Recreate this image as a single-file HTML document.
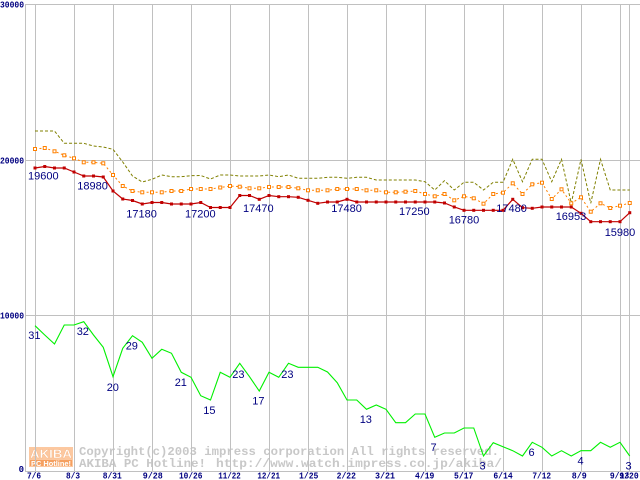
<!DOCTYPE html>
<html>
<head>
<meta charset="utf-8">
<style>
html,body{margin:0;padding:0;background:#fff;}
svg{display:block;}
.lbl{font-family:"Liberation Sans",sans-serif;font-size:11px;fill:#000080;}
.ax{font-family:"Liberation Mono",monospace;font-size:9px;font-weight:bold;fill:#000080;}
.wm{font-family:"Liberation Mono",monospace;font-size:12px;font-weight:bold;fill:#c8c8c8;}
</style>
</head>
<body>
<svg width="640" height="480" viewBox="0 0 640 480" xmlns="http://www.w3.org/2000/svg">
<defs>
<marker id="mr" markerUnits="userSpaceOnUse" markerWidth="6" markerHeight="6" refX="3" refY="3" overflow="visible">
<rect x="1.5" y="1.5" width="3" height="3" fill="#c00000"/>
</marker>
<marker id="mo" markerUnits="userSpaceOnUse" markerWidth="6" markerHeight="6" refX="3" refY="3" overflow="visible">
<rect x="1.5" y="1.5" width="3" height="3" fill="#fff" stroke="#ff8000" stroke-width="1" stroke-dasharray="none"/>
</marker>
</defs>

<!-- logo -->
<rect x="29" y="447" width="44" height="12" fill="#fcc8a0"/>
<text x="30" y="458" font-family="Liberation Sans,sans-serif" font-weight="bold" font-size="12" fill="#ffffff" stroke="#f8b888" stroke-width="0.4" textLength="42" lengthAdjust="spacingAndGlyphs">AKIBA</text>
<rect x="29" y="459" width="44" height="8" fill="#fcc8a0"/>
<rect x="30" y="460" width="42" height="6" fill="#f5a060"/>
<text x="31" y="466" font-family="Liberation Sans,sans-serif" font-weight="bold" font-size="7" fill="#ffffff" textLength="40" lengthAdjust="spacingAndGlyphs">PC Hotline!</text>

<!-- watermark text -->
<text class="wm" x="79" y="455" textLength="420" lengthAdjust="spacingAndGlyphs">Copyright(c)2003 impress corporation All rights reserved.</text>
<text class="wm" x="79" y="467" textLength="127" lengthAdjust="spacingAndGlyphs">AKIBA PC Hotline!</text>
<text class="wm" x="216" y="467" textLength="286" lengthAdjust="spacingAndGlyphs">http://www.watch.impress.co.jp/akiba/</text>

<!-- grid -->
<g fill="#c0c0c0" shape-rendering="crispEdges">
<rect x="25" y="4" width="615" height="1"/>
<rect x="25" y="160" width="615" height="1"/>
<rect x="25" y="315" width="615" height="1"/>
<rect x="25" y="471" width="615" height="1"/>
<rect x="25" y="4" width="1" height="468"/>
<rect x="35" y="4" width="1" height="468"/>
<rect x="74" y="4" width="1" height="468"/>
<rect x="113" y="4" width="1" height="468"/>
<rect x="152" y="4" width="1" height="468"/>
<rect x="191" y="4" width="1" height="468"/>
<rect x="230" y="4" width="1" height="468"/>
<rect x="269" y="4" width="1" height="468"/>
<rect x="308" y="4" width="1" height="468"/>
<rect x="347" y="4" width="1" height="468"/>
<rect x="386" y="4" width="1" height="468"/>
<rect x="425" y="4" width="1" height="468"/>
<rect x="464" y="4" width="1" height="468"/>
<rect x="503" y="4" width="1" height="468"/>
<rect x="542" y="4" width="1" height="468"/>
<rect x="581" y="4" width="1" height="468"/>
<rect x="620" y="4" width="1" height="468"/>
<rect x="629" y="4" width="1" height="468"/>
</g>

<!-- olive dashed -->
<polyline fill="none" stroke="#808000" stroke-width="1" stroke-dasharray="3 2" points="35,131 44.75,131 54.5,131 64.25,143.3 74,143.3 83.75,143.3 93.5,146 103.25,147 113,149.3 122.75,162 132.5,176 142.25,182 152,179.3 161.75,175 171.5,176.7 181.25,176.7 191,175.7 200.75,175.5 210.5,179 220.25,175 230,175 239.75,176 249.5,176 259.25,176 269,175 278.75,176.7 288.5,175 298.25,178.3 308,178.3 317.75,178.3 327.5,177.3 337.25,177.3 347,178.3 356.75,177.3 366.5,177.3 376.25,180 386,180 395.75,180 405.5,180 415.25,180 425,181.7 434.75,190 444.5,180.7 454.25,190 464,182.3 473.75,182.3 483.5,190 493.25,182.3 503,182.3 512.75,159.3 522.5,181.7 532.25,159.3 542,159.3 551.75,181.7 561.5,159.3 571.25,203.3 581,159.3 590.75,203.3 600.5,159.3 610.25,190 620,190 629.75,190"/>

<!-- orange dotted -->
<polyline fill="none" stroke="#ff8000" stroke-width="1" stroke-dasharray="2 2.5" marker-start="url(#mo)" marker-mid="url(#mo)" marker-end="url(#mo)" points="35,149 44.75,148 54.5,151.3 64.25,155.3 74,158.3 83.75,162.3 93.5,162.3 103.25,163.3 113,175 122.75,186 132.5,191 142.25,192.3 152,192.3 161.75,192.3 171.5,191 181.25,191 191,189 200.75,189 210.5,189 220.25,187.5 230,186 239.75,186.7 249.5,188.3 259.25,188.3 269,187 278.75,187 288.5,187 298.25,188.3 308,190.3 317.75,190.3 327.5,190.3 337.25,189 347,189 356.75,189 366.5,190.3 376.25,190.3 386,192.3 395.75,192.3 405.5,191.7 415.25,191 425,194 434.75,196.3 444.5,194 454.25,200.3 464,196.3 473.75,198.3 483.5,203.7 493.25,194 503,192.7 512.75,183.3 522.5,194 532.25,184.3 542,182.7 551.75,199 561.5,189.3 571.25,203.3 581,197.3 590.75,211.7 600.5,203.3 610.25,208 620,205.7 629.75,203"/>

<!-- red -->
<polyline fill="none" stroke="#c00000" stroke-width="1.2" marker-start="url(#mr)" marker-mid="url(#mr)" marker-end="url(#mr)" points="35,168 44.75,166.5 54.5,168 64.25,168 74,172 83.75,176 93.5,176 103.25,177 113,191 122.75,199 132.5,200.5 142.25,204 152,202.5 161.75,202.5 171.5,204 181.25,204 191,204 200.75,202.5 210.5,207.5 220.25,207.5 230,207.5 239.75,195.5 249.5,195.5 259.25,199.3 269,195.5 278.75,196.7 288.5,196.7 298.25,197.3 308,200.3 317.75,203.3 327.5,202 337.25,202 347,199.3 356.75,202 366.5,202 376.25,202 386,202 395.75,202 405.5,202 415.25,202 425,202 434.75,202 444.5,203 454.25,207 464,210.3 473.75,210.3 483.5,210.3 493.25,210.3 503,210.3 512.75,199.3 522.5,207.7 532.25,208.3 542,207 551.75,207 561.5,207 571.25,207 581,213.3 590.75,221.7 600.5,221.7 610.25,221.7 620,221.7 629.75,212.7"/>

<!-- green -->
<polyline fill="none" stroke="#00f000" stroke-width="1.1" points="35,325.7 44.75,335 54.5,344 64.25,325 74,325 83.75,321.7 93.5,335 103.25,347.3 113,376.7 122.75,348.3 132.5,335.7 142.25,342.3 152,358.3 161.75,349.3 171.5,353.3 181.25,372.3 191,377.3 200.75,395.7 210.5,400 220.25,372.3 230,377.3 239.75,363.3 249.5,376.7 259.25,391 269,372.3 278.75,377.3 288.5,363.3 298.25,367.3 308,367.3 317.75,367.3 327.5,372 337.25,382.7 347,400 356.75,400 366.5,409.3 376.25,405 386,409.3 395.75,422.7 405.5,422.7 415.25,414 425,414 434.75,437.3 444.5,433 454.25,433 464,428 473.75,428 483.5,456 493.25,442.7 503,446.7 512.75,450.7 522.5,456 532.25,442.3 542,447.3 551.75,456 561.5,450.7 571.25,456 581,450.7 590.75,450.7 600.5,442.3 610.25,447.3 620,442.3 629.75,456"/>

<!-- price labels -->
<text class="lbl" x="28" y="179.3">19600</text>
<text class="lbl" x="77.3" y="189.5">18980</text>
<text class="lbl" x="126.3" y="217.5">17180</text>
<text class="lbl" x="185" y="217.5">17200</text>
<text class="lbl" x="243" y="211.8">17470</text>
<text class="lbl" x="331.3" y="211.8">17480</text>
<text class="lbl" x="399" y="215.2">17250</text>
<text class="lbl" x="448.7" y="223.5">16780</text>
<text class="lbl" x="496.3" y="211.8">17480</text>
<text class="lbl" x="555.7" y="220.2">16953</text>
<text class="lbl" x="604.7" y="235.8">15980</text>

<!-- count labels -->
<text class="lbl" x="28.3" y="339.2">31</text>
<text class="lbl" x="76.7" y="335.2">32</text>
<text class="lbl" x="106.7" y="391.2">20</text>
<text class="lbl" x="125.7" y="349.5">29</text>
<text class="lbl" x="174.7" y="385.8">21</text>
<text class="lbl" x="203.3" y="413.8">15</text>
<text class="lbl" x="232.3" y="377.8">23</text>
<text class="lbl" x="252.3" y="404.5">17</text>
<text class="lbl" x="281.3" y="377.8">23</text>
<text class="lbl" x="359.7" y="422.8">13</text>
<text class="lbl" x="430.5" y="450.8">7</text>
<text class="lbl" x="479.5" y="469.5">3</text>
<text class="lbl" x="528.5" y="456.2">6</text>
<text class="lbl" x="577.5" y="464.5">4</text>
<text class="lbl" x="625.5" y="469.5">3</text>

<!-- y axis labels -->
<text class="ax" x="0" y="7.5" textLength="24" lengthAdjust="spacingAndGlyphs">30000</text>
<text class="ax" x="0" y="163.5" textLength="24" lengthAdjust="spacingAndGlyphs">20000</text>
<text class="ax" x="0" y="318.5" textLength="24" lengthAdjust="spacingAndGlyphs">10000</text>
<text class="ax" x="24" y="472" text-anchor="end">0</text>

<!-- x axis labels -->
<g class="ax" text-anchor="middle">
<text x="34" y="478.5" textLength="14" lengthAdjust="spacingAndGlyphs">7/6</text>
<text x="73" y="478.5" textLength="14" lengthAdjust="spacingAndGlyphs">8/3</text>
<text x="112.3" y="478.5" textLength="19" lengthAdjust="spacingAndGlyphs">8/31</text>
<text x="152.8" y="478.5" textLength="20" lengthAdjust="spacingAndGlyphs">9/28</text>
<text x="190.7" y="478.5" textLength="23.5" lengthAdjust="spacingAndGlyphs">10/26</text>
<text x="229.5" y="478.5" textLength="22.5" lengthAdjust="spacingAndGlyphs">11/22</text>
<text x="268.7" y="478.5" textLength="22.7" lengthAdjust="spacingAndGlyphs">12/21</text>
<text x="308.7" y="478.5" textLength="19.3" lengthAdjust="spacingAndGlyphs">1/25</text>
<text x="346.3" y="478.5" textLength="19.3" lengthAdjust="spacingAndGlyphs">2/22</text>
<text x="385" y="478.5" textLength="20" lengthAdjust="spacingAndGlyphs">3/21</text>
<text x="424.7" y="478.5" textLength="19.3" lengthAdjust="spacingAndGlyphs">4/19</text>
<text x="463.7" y="478.5" textLength="19.3" lengthAdjust="spacingAndGlyphs">5/17</text>
<text x="503" y="478.5" textLength="19.3" lengthAdjust="spacingAndGlyphs">6/14</text>
<text x="541.7" y="478.5" textLength="18.7" lengthAdjust="spacingAndGlyphs">7/12</text>
<text x="579.2" y="478.5" textLength="15" lengthAdjust="spacingAndGlyphs">8/9</text>
<text x="619.5" y="478.5" textLength="19.3" lengthAdjust="spacingAndGlyphs">9/13</text>
<text x="629" y="478.5" textLength="19.3" lengthAdjust="spacingAndGlyphs">9/20</text>
</g>
</svg>
</body>
</html>
